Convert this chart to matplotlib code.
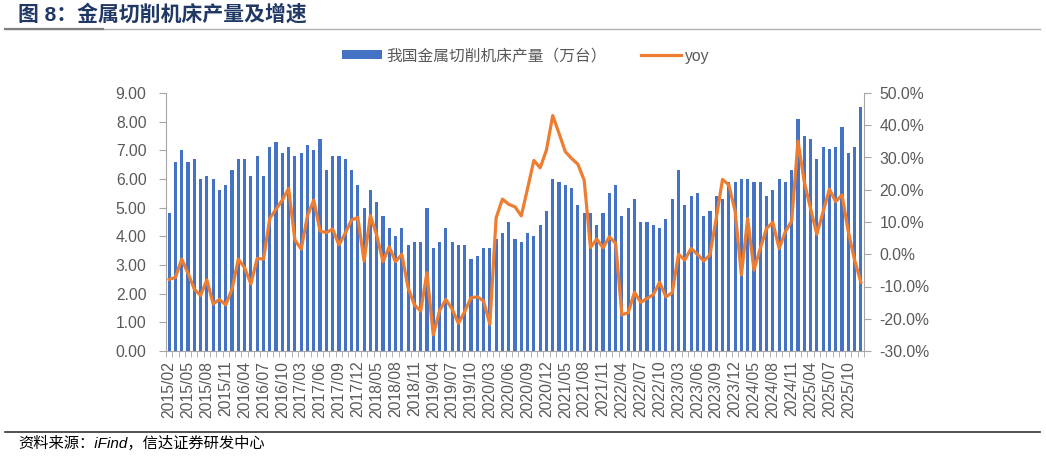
import numpy as np
import matplotlib
matplotlib.use('Agg')
import matplotlib.pyplot as plt
from matplotlib.lines import Line2D
from matplotlib.patches import Patch

plt.rcParams['font.family'] = ['Liberation Sans', 'Noto Sans CJK SC', 'DejaVu Sans']

#----- categories: 2015/02..2015/12, then Mar..Dec of each year (Jan/Feb not published)
months = ['2015/%02d' % m for m in range(2, 13)]
for y in range(2016, 2026):
    months += ['%d/%02d' % (y, m) for m in range(3, 13)]

#----- production (10k units)
prod = [4.8, 6.6, 7.0, 6.6, 6.7, 6.0, 6.1, 6.0, 5.6, 5.8,
        6.3, 6.7, 6.7, 6.1, 6.8, 6.1, 7.1, 7.3, 6.9, 7.1,
        6.8, 6.9, 7.2, 7.0, 7.4, 6.3, 6.8, 6.8, 6.7, 6.3,
        5.8, 5.0, 5.6, 5.2, 4.7, 4.3, 4.0, 4.3, 3.7, 3.8,
        3.8, 5.0, 3.6, 3.8, 4.3, 3.8, 3.7, 3.7, 3.2, 3.3,
        3.6, 3.6, 3.9, 4.1, 4.5, 3.9, 3.8, 4.1, 4.0, 4.4,
        4.9, 6.0, 5.9, 5.8, 5.7, 5.1, 4.8, 4.8, 4.4, 4.8,
        5.5, 5.8, 4.7, 5.0, 5.3, 4.5, 4.5, 4.4, 4.3, 4.6,
        5.3, 6.3, 5.1, 5.4, 5.5, 4.7, 4.9, 5.4, 5.3, 5.9,
        5.9, 6.0, 6.0, 5.9, 5.9, 5.4, 5.6, 6.0, 5.9, 6.3,
        8.1, 7.5, 7.4, 6.7, 7.1, 7.05, 7.1, 7.8, 6.9, 7.1, 8.5]

#----- yoy (%)
yoy = [-7.8, -7.2, -1.5, -5.9, -10.8, -12.8, -7.9, -15.4, -14.0, -15.7,
       -10.8, -1.5, -4.2, -9.2, -1.3, -1.5, 11.1, 14.0, 16.8, 20.4,
       4.4, 1.6, 12.0, 16.8, 7.2, 6.7, 7.8, 2.9, 6.5, 10.6,
       11.4, -2.1, 12.0, 6.0, -2.3, 2.3, -2.3, 0.0, -10.4, -15.7,
       -17.6, -5.7, -25.0, -17.5, -14.0, -17.0, -21.4, -17.8, -13.5, -13.2,
       -14.5, -21.7, 11.3, 17.1, 15.5, 14.7, 11.9, 20.4, 29.1, 26.8,
       32.3, 43.0, 37.5, 31.8, 29.7, 27.9, 23.0, 2.1, 4.7, 2.0,
       5.4, 3.4, -18.8, -18.1, -11.8, -14.9, -13.7, -12.5, -8.7, -13.2,
       -11.9, 0.0, -1.8, 1.8, 0.0, -2.1, -0.2, 11.1, 23.2, 21.5,
       13.4, -6.4, 11.1, -4.9, 1.8, 8.0, 9.9, 1.8, 7.0, 10.3,
       35.1, 22.5, 14.2, 6.2, 13.2, 20.2, 16.3, 18.4, 7.0, -1.8, -8.7]

bar_label = '我国金属切削机床产量（万台）'
line_label = 'yoy'

blue = '#4472C4'
orange = '#ED7D31'
grey = '#595959'
axcol = '#A6A6A6'

W, H = 1046, 457
DPI = 100
fig = plt.figure(figsize=(W / DPI, H / DPI), dpi=DPI)

# plot area in pixels
x0, x1, y0, y1 = 166, 864, 93, 351
ax = fig.add_axes([x0 / W, 1 - y1 / H, (x1 - x0) / W, (y1 - y0) / H])
x = np.arange(len(months))
ax.bar(x, prod, width=0.5, color=blue, zorder=2)
ax.set_xlim(-0.5, len(months) - 0.5)
ax.set_ylim(0, 9)
ax.set_yticks(np.arange(0, 10, 1))
ax.set_yticklabels(['%.2f' % v for v in np.arange(0, 10, 1)])

ax.set_xticks(x[::3])
ax.set_xticklabels(months[::3], rotation=90)
ax.set_xticks(np.arange(-0.5, len(months), 1), minor=True)
ax.tick_params(axis='x', which='major', length=0, pad=7, labelsize=11.3, labelcolor=grey)
ax.tick_params(axis='x', which='minor', length=4, color=axcol, direction='out')
ax.tick_params(axis='y', length=5, color=axcol, pad=9, labelsize=11.3, labelcolor=grey)

for s in ['top', 'right']:
    ax.spines[s].set_visible(False)
for s in ['left', 'bottom']:
    ax.spines[s].set_color(axcol)

ax2 = ax.twinx()
ax2.plot(x, yoy, color=orange, lw=2.3, zorder=3)
ax2.set_ylim(-30, 50)
ax2.set_yticks(np.arange(-30, 51, 10))
ax2.set_yticklabels(['%.1f%%' % v for v in np.arange(-30, 51, 10)])
ax2.tick_params(axis='y', length=5, color=axcol, pad=6, labelsize=11.3, labelcolor=grey)
for s in ['top', 'left', 'bottom']:
    ax2.spines[s].set_visible(False)
ax2.spines['right'].set_color(axcol)

# legend
handles = [Patch(facecolor=blue, edgecolor='none'), Line2D([0], [0], color=orange, lw=2.3)]
fig.legend(handles, [bar_label, line_label], loc='center', bbox_to_anchor=(0.503, 1 - 56 / H),
           ncol=2, frameon=False, fontsize=11.3, labelcolor=grey, handlelength=2.5,
           handleheight=0.5, columnspacing=2.2, handletextpad=0.3)

# title and source
fig.text(18 / W, 1 - 14 / H, '图 8：金属切削机床产量及增速', fontsize=15, fontweight='bold',
         color='#1F3864', va='center', ha='left')
fig.add_artist(Line2D([5 / W, 1040 / W], [1 - 28.5 / H] * 2, color='#B0B0B0', lw=1.0))
fig.add_artist(Line2D([5 / W, 103 / W], [1 - 28.5 / H] * 2, color='#808080', lw=1.6))
fig.add_artist(Line2D([5 / W, 1040 / W], [1 - 432 / H] * 2, color='#333333', lw=1.2))
fig.text(18 / W, 1 - 443 / H, '资料来源：iFind，信达证券研发中心', fontsize=11, color='black',
         va='center', ha='left', style='italic')

fig.savefig('out.png', dpi=DPI)
